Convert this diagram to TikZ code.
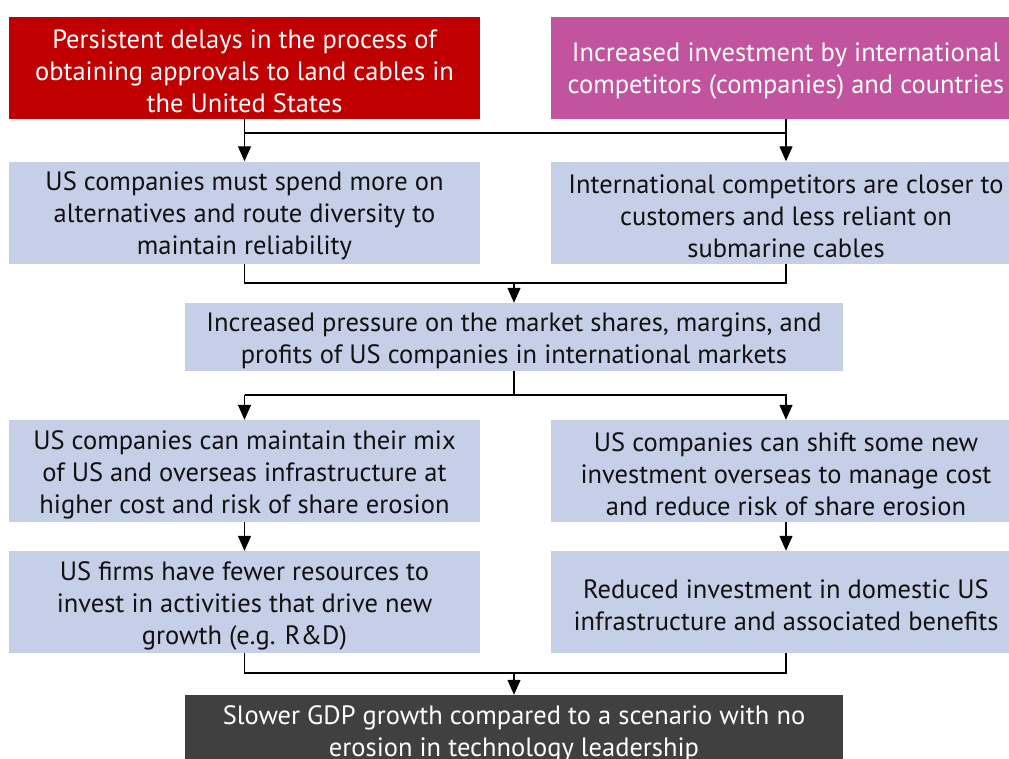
\documentclass[tikz,border=0pt]{standalone}
\usepackage{fontspec}
\setmainfont{PT Sans}
\usetikzlibrary{arrows.meta}
\definecolor{cred}{HTML}{C00000}
\definecolor{cmag}{HTML}{C2549F}
\definecolor{cblue}{HTML}{C5D0E8}
\definecolor{cdark}{HTML}{404040}
\definecolor{ctext}{HTML}{111111}
\tikzset{
  txt/.style={inner sep=0pt, align=center, font=\fontsize{26.5}{32}\selectfont, yshift=-3.5pt},
  box/.style={rectangle, inner sep=0pt},
  colbox/.style={box, minimum width=471pt, minimum height=102pt},
  midbox/.style={box, minimum width=658pt},
  arr/.style={-{Triangle[length=15pt,width=13pt]}, line width=1.3pt},
  ln/.style={line width=1.3pt},
}
\begin{document}
\begin{tikzpicture}[x=1pt,y=-1pt]
\clip (0,0) rectangle (1009,758);
\fill[white] (0,0) rectangle (1009,758);
\node[colbox, fill=cred, label={[txt, text=white]center:{Persistent delays in the process of\\obtaining approvals to land cables in\\the United States}}] (red) at (244.5,68) {};
\node[colbox, fill=cmag, label={[txt, text=white]center:{Increased investment by international\\competitors (companies) and countries}}] (mag) at (786,68) {};
\node[colbox, fill=cblue, label={[txt, text=ctext]center:{US companies must spend more on\\alternatives and route diversity to\\maintain reliability}}] (l2) at (244.5,212.5) {};
\node[colbox, fill=cblue, label={[txt, text=ctext]center:{International competitors are closer to\\customers and less reliant on\\submarine cables}}] (r2) at (786,212.5) {};
\node[midbox, fill=cblue, minimum height=68pt, label={[txt, text=ctext]center:{Increased pressure on the market shares, margins, and\\profits of US companies in international markets}}] (mid) at (514,337) {};
\node[colbox, fill=cblue, label={[txt, text=ctext]center:{US companies can maintain their mix\\of US and overseas infrastructure at\\higher cost and risk of share erosion}}] (l4) at (244.5,471) {};
\node[colbox, fill=cblue, label={[txt, text=ctext]center:{US companies can shift some new\\investment overseas to manage cost\\and reduce risk of share erosion}}] (r4) at (786,471) {};
\node[colbox, fill=cblue, label={[txt, text=ctext]center:{US firms have fewer resources to\\invest in activities that drive new\\growth (e.g. R\&D)}}] (l5) at (244.5,602) {};
\node[colbox, fill=cblue, label={[txt, text=ctext]center:{Reduced investment in domestic US\\infrastructure and associated benefits}}] (r5) at (786,602) {};
\node[midbox, fill=cdark, minimum height=76pt, label={[txt, text=white, yshift=3pt]center:{Slower GDP growth compared to a scenario with no\\erosion in technology leadership}}] (gdp) at (514,733) {};
\coordinate (j1) at (0,133);
\coordinate (j2) at (0,283);
\coordinate (j3) at (0,395);
\coordinate (j4) at (0,673);
\draw[arr] (red.south) -- (l2.north);
\draw[arr] (mag.south) -- (r2.north);
\draw[ln] (red.south |- j1) -- (mag.south |- j1);
\draw[ln] (l2.south) -- (l2.south |- j2) -- (r2.south |- j2) -- (r2.south);
\draw[arr] (mid.north |- j2) -- (mid.north);
\draw[ln] (mid.south) -- (mid.south |- j3);
\draw[arr] (l4.north |- j3) -| (r4.north);
\draw[arr] (l4.north |- j3) -- (l4.north);
\draw[arr] (l4.south) -- (l5.north);
\draw[arr] (r4.south) -- (r5.north);
\draw[ln] (l5.south) -- (l5.south |- j4) -- (r5.south |- j4) -- (r5.south);
\draw[arr] (gdp.north |- j4) -- (gdp.north);
\end{tikzpicture}
\end{document}
